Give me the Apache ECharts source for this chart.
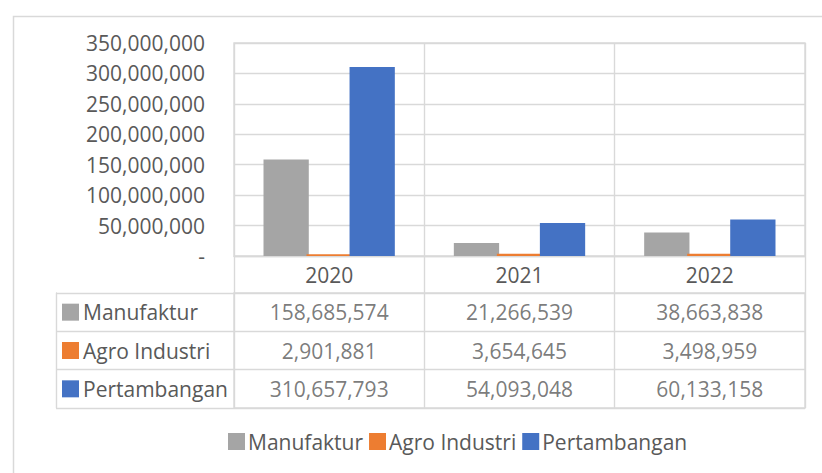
<!DOCTYPE html>
<html>
<head>
<meta charset="utf-8">
<script src="https://cdn.jsdelivr.net/npm/echarts@6/dist/echarts.min.js"></script>
<style>
html,body{margin:0;padding:0;background:#fff;}
#chart{width:822px;height:473px;}
</style>
</head>
<body>
<div id="chart"></div>
<script>
var categories = ['2020', '2021', '2022'];
var seriesNames = ['Manufaktur', 'Agro Industri', 'Pertambangan'];
var manufaktur = [158685574, 21266539, 38663838];
var agroIndustri = [2901881, 3654645, 3498959];
var pertambangan = [310657793, 54093048, 60133158];
var yMin = 0, yMax = 350000000, yStep = 50000000;

var colors = ['#a5a5a5', '#ed7d31', '#4472c4'];
var seriesValues = [manufaktur, agroIndustri, pertambangan];
var FONT = 'Open Sans';
var TXT = '#595959';
var LINE = '#d9d9d9';
var LW = 1.4;

function fmt(n) { return n.toLocaleString('en-US'); }

var tableData = [];
seriesNames.forEach(function (name, s) {
  categories.forEach(function (c, i) {
    tableData.push([i, s, seriesValues[s][i]]);
  });
});

var rich = { t: { fontFamily: FONT, fontSize: 21, color: TXT, padding: [0, 0, 0, 4] } };
colors.forEach(function (c, i) {
  rich['s' + i] = { width: 17, height: 17, backgroundColor: c };
});

var chart = echarts.init(document.getElementById('chart'), null, { renderer: 'svg' });
chart.setOption({
  animation: false,
  backgroundColor: '#fff',
  textStyle: { fontFamily: FONT },
  graphic: [{
    type: 'rect', left: 11, top: 14, z: -10,
    shape: { width: 900, height: 600 },
    style: { fill: 'none', stroke: LINE, lineWidth: 1.5 }
  }],
  legend: {
    data: seriesNames,
    left: 228, top: 431, padding: 0,
    itemWidth: 17, itemHeight: 17, itemGap: 6,
    icon: 'rect',
    textStyle: { fontFamily: FONT, fontSize: 21, color: TXT, padding: [0, 0, 0, -2] }
  },
  grid: [
    { left: 234, top: 43, width: 571, height: 213, show: true, borderColor: LINE, borderWidth: LW, backgroundColor: 'transparent' },
    { left: 234, top: 293, width: 571, height: 115, show: true, borderColor: LINE, borderWidth: LW, backgroundColor: 'transparent' }
  ],
  xAxis: [
    {
      type: 'category', gridIndex: 0, data: categories,
      axisLine: { show: true, lineStyle: { color: LINE, width: LW } },
      axisTick: { show: true, length: 37, lineStyle: { color: LINE, width: LW } },
      splitLine: { show: true, lineStyle: { color: LINE, width: LW } },
      axisLabel: { fontFamily: FONT, fontSize: 21, color: TXT, margin: 8 }
    },
    {
      type: 'category', gridIndex: 1, data: categories,
      axisLine: { show: false }, axisTick: { show: false },
      axisLabel: { show: false },
      splitLine: { show: true, lineStyle: { color: LINE, width: LW } }
    }
  ],
  yAxis: [
    {
      type: 'value', gridIndex: 0, min: yMin, max: yMax, interval: yStep,
      axisLine: { show: false }, axisTick: { show: false },
      splitLine: { show: true, lineStyle: { color: LINE, width: LW } },
      axisLabel: {
        fontFamily: FONT, fontSize: 21, color: TXT, margin: 29,
        formatter: function (v) { return v === 0 ? '-' : fmt(v); }
      }
    },
    {
      type: 'category', gridIndex: 1, data: seriesNames, inverse: true,
      offset: 178,
      axisLine: { show: true, lineStyle: { color: LINE, width: LW } },
      axisTick: { show: true, inside: true, length: 178, lineStyle: { color: LINE, width: LW } },
      splitLine: { show: true, lineStyle: { color: LINE, width: LW } },
      axisLabel: {
        inside: true, margin: 6, align: 'left',
        formatter: function (v, i) { return '{s' + i + '|}{t|' + v + '}'; },
        rich: rich
      }
    }
  ],
  series: seriesNames.map(function (name, s) {
    return {
      name: name, type: 'bar', xAxisIndex: 0, yAxisIndex: 0,
      data: seriesValues[s],
      itemStyle: { color: colors[s] },
      barCategoryGap: '31%', barGap: '-5%'
    };
  }).concat([{
    type: 'scatter', xAxisIndex: 1, yAxisIndex: 1,
    data: tableData, symbolSize: 2,
    itemStyle: { color: 'rgba(255,255,255,0)' },
    silent: true, z: 10,
    label: {
      show: true, position: 'inside',
      fontFamily: FONT, fontSize: 21, color: TXT,
      formatter: function (p) { return fmt(p.value[2]); }
    }
  }])
});
</script>
</body>
</html>
